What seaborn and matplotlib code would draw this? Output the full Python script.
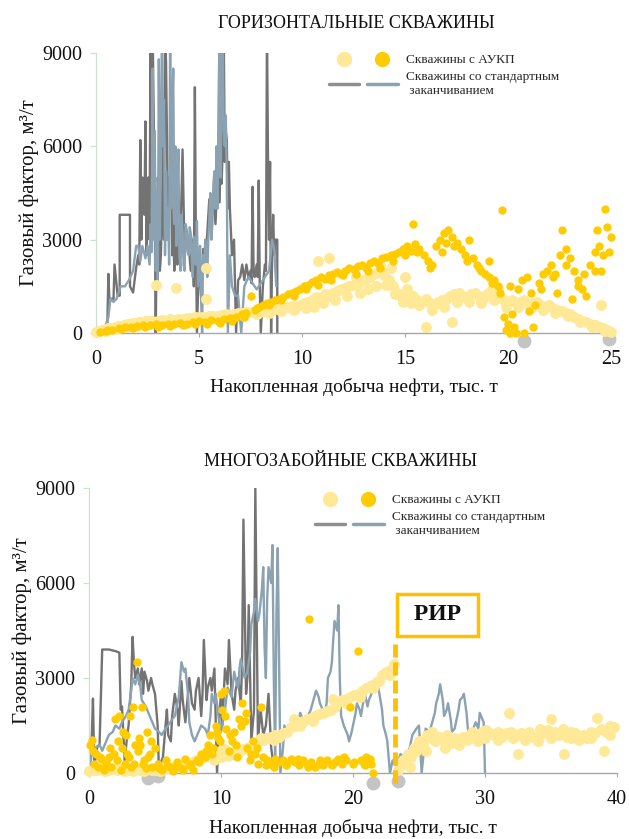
import matplotlib
matplotlib.use("Agg")
import matplotlib.pyplot as plt
from matplotlib.lines import Line2D
from matplotlib.legend_handler import HandlerTuple
import seaborn as sns

# ---------------- DATA: horizontal wells (top) ----------------
h_pale_x = [0.0, 0.15, 0.3, 0.45, 0.6, 0.75, 0.9, 1.05, 1.2, 1.35,
            1.5, 1.65, 1.8, 1.95, 2.1, 2.25, 2.4, 2.55, 2.7, 2.9,
            3.0, 3.2, 3.4, 3.6, 3.8, 3.9, 4.0, 4.2, 4.4, 4.6,
            4.8, 5.0, 5.2, 5.35, 5.35, 5.5, 5.7, 5.9, 6.1, 6.3,
            6.5, 6.7, 6.9, 7.1, 7.3, 7.5, 7.7, 7.9, 8.1, 8.3,
            8.5, 8.7, 8.9, 9.1, 9.3, 9.5, 9.7, 9.9, 10.1, 10.3,
            10.5, 10.7, 10.8, 10.9, 11.1, 11.3, 11.3, 11.5, 11.7, 11.9,
            12.1, 12.3, 12.5, 12.7, 12.9, 13.1, 13.3, 13.5, 13.7, 13.9,
            14.0, 14.2, 14.4, 14.6, 14.8, 15.0, 15.0, 15.2, 15.4, 15.6,
            15.8, 16.0, 16.0, 16.2, 16.4, 16.6, 16.8, 17.0, 17.2, 17.3,
            17.4, 17.6, 17.8, 18.0, 18.2, 18.4, 18.6, 18.8, 19.0, 19.2,
            19.4, 19.6, 19.8, 20.0, 20.2, 20.4, 20.6, 20.8, 21.0, 21.2,
            21.4, 21.6, 21.8, 22.0, 22.2, 22.4, 22.6, 22.8, 23.0, 23.2,
            23.4, 23.6, 23.8, 24.0, 24.2, 24.4, 24.6, 24.8, 25.0, 24.5,
            0.5, 1.0, 1.5, 2.0, 2.5, 3.1, 3.7, 4.3, 4.9, 5.5,
            6.0, 6.6, 7.2, 7.8, 8.4, 9.0, 9.6, 10.2, 10.6, 11.0,
            11.6, 12.2, 12.8, 13.2, 13.6, 14.1, 14.5, 14.9, 15.3, 15.7,
            16.3, 16.9, 17.5, 18.1, 18.7, 19.3, 19.9, 20.5, 21.1, 21.7,
            22.3, 22.9, 23.5, 24.1, 24.7, 13.8, 14.3, 12.6, 15.1, 19.5]
h_pale_y = [20, 60, 90, 120, 150, 170, 200, 220, 240, 260,
            280, 300, 310, 330, 350, 360, 380, 390, 400, 1550,
            380, 420, 400, 440, 430, 1450, 460, 450, 480, 470,
            500, 520, 500, 2100, 1080, 540, 560, 550, 580, 600,
            590, 620, 640, 630, 660, 680, 700, 690, 720, 740,
            760, 780, 800, 820, 850, 860, 880, 900, 950, 1000,
            1050, 1150, 2300, 1100, 1250, 2400, 1200, 1300, 1350, 1400,
            1450, 1500, 1550, 1600, 1700, 1750, 1800, 1900, 1950, 2000,
            1850, 1700, 1500, 1300, 1200, 1150, 1800, 1100, 1200, 1050,
            1000, 1100, 200, 950, 900, 1000, 1050, 1100, 1200, 350,
            1250, 1300, 1200, 1150, 1250, 1300, 1200, 1100, 1250, 1400,
            1300, 1150, 1050, 1000, 1050, 950, 1000, 1050, 900, 950,
            1000, 900, 850, 900, 800, 750, 700, 650, 600, 500,
            450, 400, 350, 300, 250, 200, 150, 100, 20, 900,
            50, 120, 180, 230, 280, 300, 330, 380, 420, 450,
            480, 520, 560, 600, 650, 700, 750, 800, 850, 950,
            1050, 1200, 1300, 1400, 1500, 1550, 1250, 1000, 950, 900,
            750, 850, 1000, 1000, 950, 1050, 850, 850, 800, 750,
            650, 550, 350, 200, 50, 2200, 2100, 1800, 1400, 1450]

h_gold_x = [0.2, 0.5, 0.8, 1.1, 1.4, 1.7, 2.0, 2.3, 2.6, 2.9,
            3.2, 3.5, 3.8, 4.1, 4.4, 4.7, 5.0, 5.3, 5.6, 5.9,
            6.2, 6.5, 6.8, 7.1, 7.3, 7.5, 7.7, 7.9, 8.1, 8.3,
            8.5, 8.7, 8.9, 9.1, 9.3, 9.5, 9.7, 9.9, 10.1, 10.3,
            10.5, 10.7, 10.9, 11.1, 11.3, 11.5, 11.7, 11.9, 12.1, 12.3,
            12.5, 12.7, 12.9, 13.1, 13.3, 13.5, 13.7, 13.9, 14.1, 14.3,
            14.5, 14.7, 14.9, 15.1, 15.3, 15.4, 15.5, 15.7, 15.9, 16.1,
            16.3, 16.5, 16.7, 16.9, 17.1, 17.3, 17.5, 17.7, 17.9, 18.1,
            18.3, 18.5, 18.7, 18.9, 19.1, 19.3, 19.5, 19.6, 19.7, 19.8,
            19.9, 20.0, 20.1, 20.2, 20.3, 20.5, 20.7, 20.9, 21.1, 21.3,
            21.5, 21.7, 21.9, 22.1, 22.3, 22.5, 22.6, 22.8, 23.0, 23.2,
            23.4, 23.6, 23.8, 24.0, 24.2, 24.4, 24.6, 24.7, 24.8, 25.0,
            0.6, 1.2, 1.8, 2.4, 3.0, 3.6, 4.2, 4.8, 5.4, 6.0,
            6.6, 7.2, 7.8, 8.4, 9.0, 9.6, 10.2, 10.8, 11.4, 12.0,
            12.6, 13.2, 13.8, 14.4, 15.0, 15.6, 16.2, 16.8, 17.4, 18.0,
            18.6, 19.2, 20.4, 21.0, 21.6, 22.2, 22.8, 23.4, 24.2, 24.9,
            19.1, 20.8, 21.2, 22.4, 23.1, 23.7, 24.5, 24.3, 17.0, 20.1]
h_gold_y = [30, 60, 110, 150, 180, 200, 230, 250, 260, 280,
            250, 300, 280, 320, 300, 350, 380, 360, 420, 400,
            450, 480, 520, 600, 650, 1180, 750, 850, 900, 950,
            1000, 1050, 1100, 1150, 1250, 1300, 1350, 1400, 1500, 1550,
            1650, 1700, 1800, 1750, 1850, 1900, 1950, 1900, 2000, 2100,
            2050, 2150, 2200, 2100, 2250, 2300, 2250, 2400, 2450, 2500,
            2550, 2600, 2700, 2800, 2650, 3500, 2850, 2700, 2500, 2300,
            2200, 2800, 3000, 3200, 3300, 3100, 2900, 2700, 2500, 3000,
            2400, 2200, 2000, 1900, 1800, 1700, 1500, 1300, 3950, 500,
            100, 300, 0, 600, 200, 1400, 1700, 1800, 1300, 900,
            1600, 1900, 2000, 2200, 1900, 2500, 3300, 2700, 2400, 2000,
            1700, 1400, 1200, 2200, 2600, 2800, 2500, 4000, 3400, 3100,
            100, 130, 170, 200, 180, 230, 250, 280, 300, 330,
            400, 500, 800, 900, 1050, 1200, 1400, 1550, 1700, 1850,
            1900, 2000, 2100, 2300, 2500, 2600, 2100, 2600, 2800, 2300,
            2100, 1600, 0, 700, 1400, 1800, 2200, 1500, 2000, 2600,
            2300, 0, 200, 1300, 1100, 1900, 2000, 3300, 2900, 1500]

h_dark_x = [0.0, 0.3, 0.55, 0.6, 0.65, 0.85, 0.9, 1.05, 1.15, 1.15,
            1.65, 1.65, 1.8, 1.95, 2.05, 2.1, 2.15, 2.2, 2.25, 2.3,
            2.35, 2.4, 2.45, 2.5, 2.55, 2.6, 2.65, 2.7, 2.75, 2.8,
            2.85, 2.9, 2.95, 3.0, 3.05, 3.1, 3.15, 3.2, 3.25, 3.3,
            3.35, 3.4, 3.45, 3.5, 3.55, 3.6, 3.65, 3.7, 3.75, 3.8,
            3.85, 3.9, 3.95, 4.0, 4.1, 4.2, 4.3, 4.4, 4.5, 4.6,
            4.7, 4.75, 4.8, 4.85, 4.9, 5.0, 5.1, 5.2, 5.3, 5.4,
            5.5, 5.6, 5.7, 5.8, 5.9, 6.0, 6.05, 6.1, 6.15, 6.2,
            6.25, 6.3, 6.35, 6.4, 6.45, 6.5, 6.6, 6.7, 6.8, 6.9,
            7.0, 7.1, 7.2, 7.3, 7.4, 7.5, 7.55, 7.6, 7.65, 7.7,
            7.8, 7.85, 7.9, 7.95, 8.0, 8.1, 8.2, 8.25, 8.3, 8.35,
            8.4, 8.45, 8.5, 8.55, 8.6, 8.65, 8.7, 8.8, 8.8]
h_dark_y = [0, 100, 200, 1900, 1100, 1100, 2200, 1200, 1200, 3800,
            3800, 1500, 1300, 2100, 2500, 2200, 6200, 3000, 5000, 4500,
            3800, 6800, 2500, 4000, 5000, 3000, 9800, 5500, 9800, 7000,
            4000, 0, 3500, 5000, 4500, 2000, 2500, 4000, 6000, 3000,
            9800, 8700, 6000, 3000, 5000, 4200, 5000, 2500, 3500, 2000,
            3000, 4000, 2200, 3500, 3000, 5900, 2500, 3300, 2800, 2000,
            3000, 1500, 7900, 3000, 0, 2500, 1200, 2700, 2200, 3200,
            4300, 3500, 4500, 3500, 5000, 4200, 6000, 4800, 6000, 9800,
            5500, 6500, 6200, 4000, 5500, 4000, 2500, 3000, 0, 1700,
            1800, 2200, 1700, 2200, 1800, 2000, 1600, 4700, 2000, 1800,
            2200, 1800, 4900, 1500, 0, 1500, 2200, 2000, 9800, 5500,
            3000, 5500, 0, 2500, 3800, 2500, 3000, 3000, 0]

h_blue_x = [0.0, 0.3, 0.5, 0.6, 0.7, 0.85, 1.0, 1.2, 1.4, 1.6,
            1.8, 1.95, 2.05, 2.15, 2.25, 2.4, 2.5, 2.6, 2.65, 2.7,
            2.75, 2.8, 2.85, 2.9, 2.95, 3.0, 3.05, 3.1, 3.15, 3.2,
            3.25, 3.3, 3.35, 3.4, 3.45, 3.5, 3.55, 3.6, 3.65, 3.7,
            3.75, 3.8, 3.85, 3.9, 3.95, 4.0, 4.05, 4.1, 4.15, 4.2,
            4.25, 4.3, 4.35, 4.4, 4.45, 4.5, 4.55, 4.6, 4.65, 4.7,
            4.75, 4.8, 4.85, 4.9, 4.95, 5.0, 5.05, 5.1, 5.15, 5.2,
            5.25, 5.3, 5.35, 5.4, 5.45, 5.5, 5.55, 5.6, 5.65, 5.7,
            5.75, 5.8, 5.85, 5.9, 5.95, 6.0, 6.05, 6.1, 6.15, 6.2,
            6.25, 6.3, 6.35, 6.4, 6.5, 6.6, 6.75, 6.9, 7.05, 7.2,
            7.4, 7.6, 7.8, 8.0, 8.2, 8.4, 8.55, 8.65, 8.75]
h_blue_y = [0, 100, 300, 500, 1100, 1000, 1100, 1500, 1500, 1700,
            2000, 2800, 2800, 2300, 2800, 2400, 2800, 2200, 3500, 2600,
            8500, 3000, 6500, 2000, 4500, 1500, 8800, 3000, 5500, 9800,
            6000, 7500, 2500, 5200, 3000, 4000, 2200, 9800, 4000, 7000,
            8500, 3500, 6000, 2800, 4500, 5900, 2500, 2000, 3800, 3300,
            2200, 2000, 3500, 3300, 2600, 2500, 3400, 3200, 2400, 1800,
            3100, 3000, 2200, 3600, 1500, 2000, 2800, 1200, 0, 2500,
            2000, 3000, 2500, 1800, 3000, 3600, 4500, 3000, 3500, 4800,
            5200, 4000, 6000, 4000, 7500, 9800, 5000, 8000, 9800, 6500,
            6000, 7000, 5000, 0, 2500, 1500, 1200, 1200, 0, 1500,
            1800, 1600, 1400, 1600, 1800, 2000, 3000, 2700, 1500]

h_grey_x = [20.8, 24.9]
h_grey_y = [-250, -200]

# ---------------- DATA: multilateral wells (bottom) ----------------
m_pale_x = [0.0, 0.3, 0.6, 0.9, 1.2, 1.5, 1.8, 2.1, 2.4, 2.7,
            3.0, 3.3, 3.6, 3.9, 4.2, 4.5, 4.8, 5.1, 5.4, 5.7,
            6.0, 6.3, 6.6, 6.9, 7.2, 7.5, 7.8, 8.1, 8.4, 8.7,
            9.0, 9.3, 9.6, 9.9, 10.2, 10.5, 10.8, 11.1, 11.4, 11.7,
            12.0, 12.3, 12.6, 12.9, 13.2, 13.5, 13.8, 14.1, 14.4, 14.7,
            15.0, 15.3, 15.6, 15.9, 16.2, 16.5, 16.8, 17.1, 17.4, 17.7,
            18.0, 18.3, 18.6, 18.9, 19.2, 19.5, 19.8, 20.1, 20.4, 20.7,
            21.0, 21.3, 21.6, 21.9, 22.2, 22.5, 22.8, 23.1, 23.4, 23.6,
            23.8, 24.0, 24.2, 24.4, 24.6, 24.8, 25.0, 25.3, 25.6, 25.9,
            26.2, 26.5, 26.8, 27.1, 27.4, 27.7, 28.0, 28.3, 28.6, 28.9,
            29.2, 29.5, 29.8, 30.1, 30.4, 30.7, 31.0, 31.3, 31.6, 31.8,
            32.1, 32.4, 32.5, 32.7, 33.0, 33.3, 33.6, 33.9, 34.2, 34.5,
            34.8, 35.0, 35.3, 35.6, 35.9, 36.0, 36.2, 36.5, 36.8, 37.1,
            37.4, 37.7, 38.0, 38.3, 38.5, 38.8, 39.0, 39.2, 39.5, 39.8,
            9.5, 10.0, 10.5, 13.0, 14.0, 15.5, 16.0, 17.0, 18.5, 19.5,
            20.5, 21.5, 22.0, 22.8, 24.3, 24.9, 25.5, 26.0, 27.0, 28.0,
            29.0, 30.0, 31.0, 32.0, 33.0, 34.0, 35.0, 36.5, 38.0, 39.5]
m_pale_y = [50, 100, 80, 120, 60, 100, 150, 90, 130, 70,
            110, 60, 140, 90, 50, 120, 80, 100, 60, 130,
            150, 200, 180, 250, 300, 280, 350, 400, 450, 500,
            550, 600, 650, 700, 750, 650, 600, 700, 650, 750,
            800, 850, 900, 1000, 1050, 1100, 1150, 1200, 1150, 1250,
            1300, 1450, 1500, 1600, 1650, 1700, 1750, 1800, 1850, 1900,
            1950, 2000, 2100, 2250, 2300, 2350, 2400, 2450, 2500, 2600,
            2700, 2750, 2800, 2900, 3100, 3200, 3250, 3450, 100, 250,
            400, 300, 600, 500, 800, 700, 1000, 900, 1200, 1100,
            1000, 1150, 1050, 1200, 950, 1100, 1000, 1150, 1050, 1200,
            1100, 1000, 1300, 1350, 1250, 1200, 1300, 1150, 1250, 1900,
            1100, 1200, 600, 1250, 1050, 1300, 1150, 1100, 1400, 1250,
            1350, 1700, 1300, 1200, 1400, 600, 1150, 1100, 1250, 1050,
            1200, 1100, 1300, 1250, 1750, 1400, 700, 1300, 1500, 1450,
            400, 500, 550, 1100, 1050, 1700, 1500, 1650, 2350, 2200,
            2400, 2700, 2900, 3100, 200, 900, 700, 1300, 800, 900,
            1300, 1100, 1050, 1300, 1200, 1000, 1100, 1300, 1100, 1200]

m_gold_x = [0.1, 0.2, 0.4, 0.5, 0.7, 0.9, 1.1, 1.3, 1.5, 1.7,
            1.9, 2.0, 2.2, 2.3, 2.5, 2.7, 2.8, 3.0, 3.1, 3.3,
            3.4, 3.6, 3.7, 3.9, 4.0, 4.2, 4.4, 4.6, 4.8, 5.0,
            5.2, 5.5, 5.8, 6.1, 6.4, 6.7, 7.0, 7.3, 7.6, 7.9,
            8.2, 8.5, 8.8, 9.0, 9.2, 9.4, 9.6, 9.8, 10.0, 10.1,
            10.2, 10.4, 10.6, 10.8, 11.0, 11.2, 11.4, 11.6, 11.8, 12.0,
            12.2, 12.4, 12.6, 12.8, 13.0, 13.2, 13.5, 13.8, 14.1, 14.4,
            14.7, 15.0, 15.3, 15.6, 15.9, 16.2, 16.5, 16.7, 16.8, 17.1,
            17.4, 17.7, 18.0, 18.3, 18.6, 18.9, 19.2, 19.5, 19.8, 20.1,
            20.4, 20.6, 20.8, 21.0, 21.2, 21.4, 21.5, 4.3, 3.8, 2.6,
            0.3, 0.8, 1.2, 1.6, 2.1, 2.4, 2.9, 3.2, 3.5, 4.1,
            4.5, 4.7, 5.3, 5.9, 6.5, 7.1, 7.7, 8.3, 8.9, 9.3,
            9.7, 9.9, 10.3, 10.7, 11.1, 11.5, 11.9, 12.3, 12.7, 13.4,
            14.0, 14.9, 15.8, 16.6, 17.5, 18.4, 19.3, 20.0, 20.9, 21.3]
m_gold_y = [900, 1050, 300, 600, 200, 450, 100, 350, 500, 200,
            600, 1700, 1000, 1800, 800, 300, 1200, 500, 1800, 2100,
            300, 3500, 700, 900, 2100, 400, 1300, 600, 200, 800,
            300, 100, 400, 200, 50, 350, 150, 450, 250, 100,
            400, 600, 500, 900, 1200, 800, 1500, 1100, 2500, 2000,
            2600, 1400, 700, 1000, 1300, 500, 1700, 2200, 1650, 800,
            400, 1000, 600, 300, 2100, 500, 400, 300, 450, 350,
            400, 300, 450, 350, 250, 400, 300, 4850, 350, 200,
            300, 250, 400, 300, 350, 450, 300, 400, 2100, 350,
            3850, 400, 300, 500, 400, 300, 0, 150, 1100, 1300,
            700, 500, 200, 800, 400, 100, 600, 200, 900, 300,
            500, 1000, 150, 250, 200, 100, 300, 350, 700, 600,
            1300, 1000, 1800, 1200, 900, 1500, 1900, 600, 800, 250,
            200, 250, 450, 200, 400, 250, 500, 300, 250, 450]

m_dark_x = [0.0, 0.2, 0.3, 0.4, 0.6, 0.8, 1.0, 1.5, 2.0, 2.3,
            2.4, 2.5, 2.7, 2.9, 3.0, 3.2, 3.3, 3.4, 3.5, 3.7,
            3.8, 4.0, 4.1, 4.2, 4.4, 4.5, 4.7, 4.8, 5.0, 5.2,
            5.3, 5.5, 5.6, 5.8, 5.9, 6.0, 6.2, 6.3, 6.5, 6.7,
            6.8, 7.0, 7.1, 7.3, 7.5, 7.6, 7.8, 8.0, 8.1, 8.3,
            8.5, 8.6, 8.7, 8.9, 9.0, 9.2, 9.3, 9.5, 9.7, 9.9,
            10.0, 10.1, 10.3, 10.5, 10.6, 10.8, 11.0, 11.1, 11.3, 11.5,
            11.6, 11.7, 11.9, 12.0, 12.1, 12.3, 12.5, 12.6, 12.8, 13.0,
            13.2, 13.4, 13.6, 13.8, 14.0]
m_dark_y = [300, 1000, 2350, 200, 800, 900, 3900, 3900, 3850, 3800,
            2000, 2100, 400, 1200, 1500, 2800, 4300, 3500, 3000, 3300,
            2800, 3300, 2500, 3200, 2900, 2600, 3000, 2800, 2500, 1500,
            0, 400, 500, 1500, 2000, 1200, 1000, 1800, 2500, 2000,
            1500, 2900, 2300, 1600, 2500, 3000, 2200, 2000, 2600, 3000,
            1800, 2500, 4200, 2300, 2700, 3000, 2600, 3300, 0, 2000,
            2500, 1500, 3300, 2800, 4200, 2500, 2000, 2600, 3000, 2200,
            3500, 8000, 2500, 3000, 5300, 1000, 2000, 9000, 1000, 2000,
            1200, 1500, 2500, 800, 200]

m_blue_x = [0.0, 0.2, 0.5, 0.8, 1.0, 1.3, 1.5, 1.8, 2.0, 2.3,
            2.5, 2.8, 3.0, 3.2, 3.3, 3.5, 3.7, 3.9, 4.0, 4.3,
            4.5, 4.8, 5.0, 5.3, 5.5, 5.8, 6.0, 6.3, 6.5, 6.8,
            7.0, 7.2, 7.3, 7.5, 7.6, 7.8, 8.0, 8.3, 8.5, 8.8,
            9.0, 9.2, 9.3, 9.5, 9.6, 9.8, 10.0, 10.3, 10.5, 10.8,
            11.0, 11.2, 11.3, 11.4, 11.5, 11.7, 11.8, 12.0, 12.2, 12.3,
            12.5, 12.6, 12.8, 12.9, 13.1, 13.2, 13.3, 13.4, 13.5, 13.6,
            13.8, 13.9, 14.0, 14.1, 14.2, 14.3, 14.4, 14.5, 14.7, 14.8,
            15.0, 15.2, 15.4, 15.6, 15.8, 16.0, 16.2, 16.4, 16.6, 16.8,
            17.0, 17.2, 17.4, 17.5, 17.7, 17.8, 18.0, 18.1, 18.3, 18.4,
            18.5, 18.6, 18.8, 18.9, 19.0, 19.1, 19.3, 19.4, 19.6, 19.7,
            19.9, 20.0, 20.2, 20.3, 20.5, 20.6, 20.8, 20.9, 21.1, 21.2,
            21.4, 21.5, 21.7, 21.8, 22.0, 22.2, 22.3, 22.5, 22.6, 22.8,
            23.0, 23.3, 23.6, 24.0, 24.3, 24.5, 24.8, 25.0, 25.2, 25.4,
            25.5, 25.8, 26.0, 26.2, 26.3, 26.5, 26.6, 26.8, 26.9, 27.1,
            27.2, 27.4, 27.5, 27.7, 27.8, 28.0, 28.1, 28.3, 28.4, 28.6,
            28.7, 28.9, 29.0, 29.2, 29.3, 29.5, 29.6, 29.8, 29.9, 30.0]
m_blue_y = [0, 600, 800, 900, 700, 1000, 1200, 1300, 1500, 1400,
            1600, 1800, 2000, 2600, 3000, 2800, 3100, 2700, 2300, 2100,
            1900, 1600, 1400, 1300, 1200, 1400, 1500, 1700, 1800, 2400,
            3500, 3200, 3300, 2500, 1600, 1200, 1000, 1300, 1500, 1400,
            1200, 1800, 2500, 2200, 2500, 1800, 1300, 2000, 2700, 2400,
            3200, 2800, 2700, 3300, 3600, 3200, 3000, 3200, 3800, 4700,
            5100, 5500, 4800, 5000, 5800, 6500, 4000, 3000, 5500, 6500,
            6000, 7200, 3000, 500, 5000, 7100, 3500, 0, 800, 1500,
            1300, 1200, 1500, 1600, 1400, 1900, 1700, 1500, 1800, 2000,
            2300, 2600, 2400, 2200, 2000, 1800, 2200, 3000, 3200, 3500,
            4200, 4800, 4500, 5300, 3000, 1800, 1500, 1400, 1200, 1000,
            1300, 1500, 1900, 2200, 2000, 1800, 2300, 2500, 2100, 2300,
            2500, 2600, 2700, 2900, 2500, 2000, 1500, 1200, 1000, 0,
            400, 200, 600, 400, 800, 1200, 1400, 1500, 0, 800,
            1400, 1300, 1600, 1900, 2200, 2500, 2800, 2300, 1800, 2000,
            2200, 1700, 1300, 1400, 1600, 2000, 2300, 2400, 2500, 1900,
            1400, 1200, 1300, 1500, 1600, 1400, 1900, 1700, 1600, 0]

m_grey_x = [4.5, 5.2, 21.5, 23.4]
m_grey_y = [-150, -100, -300, -250]

rip_x = 23.2
rip_top = 4100
rip_label_x = 26.4
rip_label_y = 5000

x_ticks_top = [0, 5, 10, 15, 20, 25]
x_ticks_bot = [0, 10, 20, 30, 40]
y_ticks = [0, 3000, 6000, 9000]

titles = ["ГОРИЗОНТАЛЬНЫЕ СКВАЖИНЫ", "МНОГОЗАБОЙНЫЕ СКВАЖИНЫ"]
ylabel = "Газовый фактор, м³/т"
xlabel = "Накопленная добыча нефти, тыс. т"
leg_labels = ["Скважины с АУКП", "Скважины со стандартным\n заканчиванием"]

# ---------------- STYLE ----------------
sns.set_style("white")
plt.rcParams["font.family"] = ["Liberation Serif", "DejaVu Serif"]

PALE = "#FFE896"
GOLD = "#FFCC00"
DARK = "#737373"
BLUE = "#8AA2B1"
GREY = "#C4C4C4"
ORANGE = "#FFC000"
TXT = "#111111"

fig = plt.figure(figsize=(6.29, 8.39), dpi=100)
ax1 = fig.add_axes([96 / 629, 1 - 333 / 839, (611 - 96) / 629, (333 - 53) / 839])
ax2 = fig.add_axes([89 / 629, 1 - 773 / 839, (617 - 89) / 629, (773 - 488) / 839])


def draw(ax, dx, dy, bx, by, px, py, gx, gy, grx, gry):
    sns.lineplot(x=dx, y=dy, ax=ax, color=DARK, linewidth=1.7,
                 estimator=None, sort=False)
    sns.lineplot(x=bx, y=by, ax=ax, color=BLUE, linewidth=1.7,
                 estimator=None, sort=False)
    sns.scatterplot(x=grx, y=gry, ax=ax, color=GREY, s=100,
                    linewidth=0, clip_on=False, zorder=3)
    sns.scatterplot(x=px, y=py, ax=ax, color=PALE, s=62,
                    linewidth=0, clip_on=False, zorder=4)
    sns.scatterplot(x=gx, y=gy, ax=ax, color=GOLD, s=36,
                    linewidth=0, clip_on=False, zorder=5)


draw(ax1, h_dark_x, h_dark_y, h_blue_x, h_blue_y, h_pale_x, h_pale_y,
     h_gold_x, h_gold_y, h_grey_x, h_grey_y)
draw(ax2, m_dark_x, m_dark_y, m_blue_x, m_blue_y, m_pale_x, m_pale_y,
     m_gold_x, m_gold_y, m_grey_x, m_grey_y)

ax1.set_xlim(0, 25)
ax2.set_xlim(0, 40)
ax1.set_xticks(x_ticks_top)
ax2.set_xticks(x_ticks_bot)

for ax in (ax1, ax2):
    ax.set_ylim(0, 9000)
    ax.set_yticks(y_ticks)
    ax.set_yticklabels([str(v) for v in y_ticks])
    for s in ("top", "right"):
        ax.spines[s].set_visible(False)
    ax.spines["left"].set_color("#CDE2CD")
    ax.spines["left"].set_linewidth(0.9)
    ax.spines["bottom"].set_color("#A8A8A8")
    ax.spines["bottom"].set_linewidth(1.0)
    ax.tick_params(axis="y", left=True, length=4, width=0.9, color="#CDE2CD",
                   labelsize=14.5, pad=6, labelcolor=TXT)
    ax.tick_params(axis="x", bottom=True, length=3, width=0.8, color="#A8A8A8",
                   labelsize=14.5, pad=9, labelcolor=TXT)
    ax.set_ylabel(ylabel, fontsize=15, color=TXT)
    ax.set_xlabel(xlabel, fontsize=14, color=TXT)
    ax.xaxis.set_label_coords(0.5, -0.16)

ax1.yaxis.set_label_coords(-0.110, 0.5)
ax2.yaxis.set_label_coords(-0.108, 0.5)

fig.text(356 / 629, 1 - 23 / 839, titles[0], ha="center", va="center",
         fontsize=13, color=TXT)
fig.text(340 / 629, 1 - 461 / 839, titles[1], ha="center", va="center",
         fontsize=13, color=TXT)

# RIP annotation
ax2.plot([rip_x, rip_x], [-300, rip_top], color=ORANGE, lw=3.5,
         ls=(0, (2.7, 1.0)), clip_on=False, zorder=6)
ax2.text(rip_label_x, rip_label_y, " РИР ", ha="center", va="center",
         fontsize=17, fontweight="bold", color=TXT, zorder=7,
         bbox=dict(boxstyle="square,pad=0.45", fc="white", ec=ORANGE, lw=2.5))


# Legends
def make_legend(ax, anchor):
    h1 = (Line2D([], [], marker="o", ls="", markersize=11, color=PALE, mec="none"),
          Line2D([], [], marker="o", ls="", markersize=11, color=GOLD, mec="none"))
    h2 = (Line2D([], [], color=DARK, lw=2.5, alpha=0.8),
          Line2D([], [], color=BLUE, lw=2.5))
    ax.legend([h1, h2], leg_labels, handler_map={tuple: HandlerTuple(ndivide=None, pad=0.6)},
              frameon=False, loc="upper left", bbox_to_anchor=anchor,
              bbox_transform=fig.transFigure, fontsize=9.5, handlelength=5.2,
              handletextpad=0.6, labelspacing=0.35, borderpad=0, borderaxespad=0)


make_legend(ax1, (329 / 629, 1 - 54 / 839))
make_legend(ax2, (315 / 629, 1 - 494 / 839))

fig.savefig("out.png", dpi=100)
